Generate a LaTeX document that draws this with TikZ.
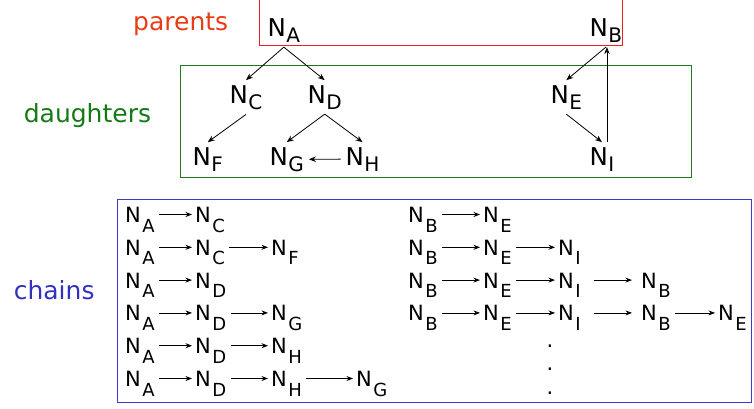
\documentclass[tikz,border=0pt]{standalone}
\usepackage{fontspec}
\setmainfont{DejaVu Sans}
\usetikzlibrary{arrows.meta}
\definecolor{parcol}{RGB}{232,60,20}
\definecolor{redframe}{RGB}{240,30,30}
\definecolor{daucol}{RGB}{20,122,20}
\definecolor{greenframe}{RGB}{30,120,30}
\definecolor{chacol}{RGB}{50,50,190}
\definecolor{blueframe}{RGB}{60,60,200}
\newcommand\TN[1]{N\kern0.02em\raisebox{-0.25em}{\fontsize{20}{20}\selectfont #1}}
\newcommand\CN[1]{N\kern0.08em\raisebox{-0.46em}{\fontsize{18}{18}\selectfont #1}}
\newcommand\ca[3][]{\draw[carr,#1] ([yshift=8pt]#2.base east) -- ([yshift=8pt]#3.base west);}
\begin{document}
\begin{tikzpicture}[x=1pt,y=-1pt,
  tnode/.style={inner sep=0pt, outer sep=5pt, anchor=base west, font=\fontsize{24.5}{26}\selectfont},
  cnode/.style={inner sep=0pt, outer sep=0pt, anchor=base west, font=\fontsize{21}{23}\selectfont},
  lbl/.style={inner sep=0pt, anchor=base west, font=\fontsize{25}{27}\selectfont},
  tarr/.style={-{Stealth[length=7pt,width=5.5pt]}, line width=0.8pt},
  carr/.style={-{Stealth[length=6.5pt,width=5pt]}, line width=0.8pt, shorten <=4.5pt, shorten >=3pt},
  frame/.style={line width=1.4pt}]
\path[use as bounding box] (0,0) rectangle (754,408);

% group frames
\draw[frame, color=redframe] (259.5,-5) -- (259.5,45.5) -- (622.5,45.5) -- (622.5,-5);
\draw[frame, color=greenframe] (180.5,65.5) rectangle (691.5,177.5);
\draw[frame, color=blueframe] (117.5,199.5) rectangle (751.5,402.5);

% labels
\node[lbl, text=parcol] (lpar) at (133,30) {parents};
\node[lbl, text=daucol] (ldau) at (23.6,122) {daughters};
\node[lbl, text=chacol] (lcha) at (13.6,299) {chains};

% tree
\node[tnode] (A) at (262.6,36) {\TN{A}};
\node[tnode] (B) at (584.6,36) {\TN{B}};
\node[tnode] (C) at (224.6,103) {\TN{C}};
\node[tnode] (D) at (302.6,103) {\TN{D}};
\node[tnode] (E) at (545.6,103) {\TN{E}};
\node[tnode] (F) at (187.6,165) {\TN{F}};
\node[tnode] (G) at (264.6,165) {\TN{G}};
\node[tnode] (H) at (340.6,165) {\TN{H}};
\node[tnode] (I) at (584.6,165) {\TN{I}};

\draw[tarr] (A.south) -- (C.north);
\draw[tarr] (A.south) -- (D.north);
\draw[tarr] (C.south) -- (F.north);
\draw[tarr] (D.south) -- (G.north);
\draw[tarr] (D.south) -- (H.north);
\draw[tarr] (H.west) -- (G.east);
\draw[tarr] (B.south) -- (E.north);
\draw[tarr] (E.south) -- (I.north);
\draw[tarr] ([xshift=5pt]I.north) -- ([xshift=5pt]I.north |- B.south);

% chains, left column
\node[cnode] (l11) at (125,222.5) {\CN{A}};
\node[cnode] (l12) at (195,222.5) {\CN{C}};
\ca{l11}{l12}

\node[cnode] (l21) at (125,255.3) {\CN{A}};
\node[cnode] (l22) at (195,255.3) {\CN{C}};
\node[cnode] (l23) at (271,255.3) {\CN{F}};
\ca{l21}{l22}\ca{l22}{l23}

\node[cnode] (l31) at (125,288.1) {\CN{A}};
\node[cnode] (l32) at (195,288.1) {\CN{D}};
\ca{l31}{l32}

\node[cnode] (l41) at (125,320.9) {\CN{A}};
\node[cnode] (l42) at (195,320.9) {\CN{D}};
\node[cnode] (l43) at (271,320.9) {\CN{G}};
\ca{l41}{l42}\ca{l42}{l43}

\node[cnode] (l51) at (125,353.7) {\CN{A}};
\node[cnode] (l52) at (195,353.7) {\CN{D}};
\node[cnode] (l53) at (271,353.7) {\CN{H}};
\ca{l51}{l52}\ca{l52}{l53}

\node[cnode] (l61) at (125,386.5) {\CN{A}};
\node[cnode] (l62) at (195,386.5) {\CN{D}};
\node[cnode] (l63) at (271,386.5) {\CN{H}};
\node[cnode] (l64) at (356,386.5) {\CN{G}};
\ca{l61}{l62}\ca{l62}{l63}\ca{l63}{l64}

% chains, right column
\node[cnode] (r11) at (408,222.5) {\CN{B}};
\node[cnode] (r12) at (483,222.5) {\CN{E}};
\ca{r11}{r12}

\node[cnode] (r21) at (408,255.3) {\CN{B}};
\node[cnode] (r22) at (483,255.3) {\CN{E}};
\node[cnode] (r23) at (558,255.3) {\CN{I}};
\ca{r21}{r22}\ca{r22}{r23}

\node[cnode] (r31) at (408,288.1) {\CN{B}};
\node[cnode] (r32) at (483,288.1) {\CN{E}};
\node[cnode] (r33) at (558,288.1) {\CN{I}};
\node[cnode] (r34) at (641,288.1) {\CN{B}};
\ca{r31}{r32}\ca{r32}{r33}\ca[shorten <=13pt, shorten >=9pt]{r33}{r34}

\node[cnode] (r41) at (408,320.9) {\CN{B}};
\node[cnode] (r42) at (483,320.9) {\CN{E}};
\node[cnode] (r43) at (558,320.9) {\CN{I}};
\node[cnode] (r44) at (641,320.9) {\CN{B}};
\node[cnode] (r45) at (718,320.9) {\CN{E}};
\ca{r41}{r42}\ca{r42}{r43}\ca[shorten <=13pt, shorten >=9pt]{r43}{r44}\ca{r44}{r45}

% continuation dots
\node[cnode, anchor=base] (d1) at (550,347) {.};
\node[cnode, anchor=base] (d2) at (550,370) {.};
\node[cnode, anchor=base] (d3) at (550,394) {.};
\end{tikzpicture}
\end{document}
